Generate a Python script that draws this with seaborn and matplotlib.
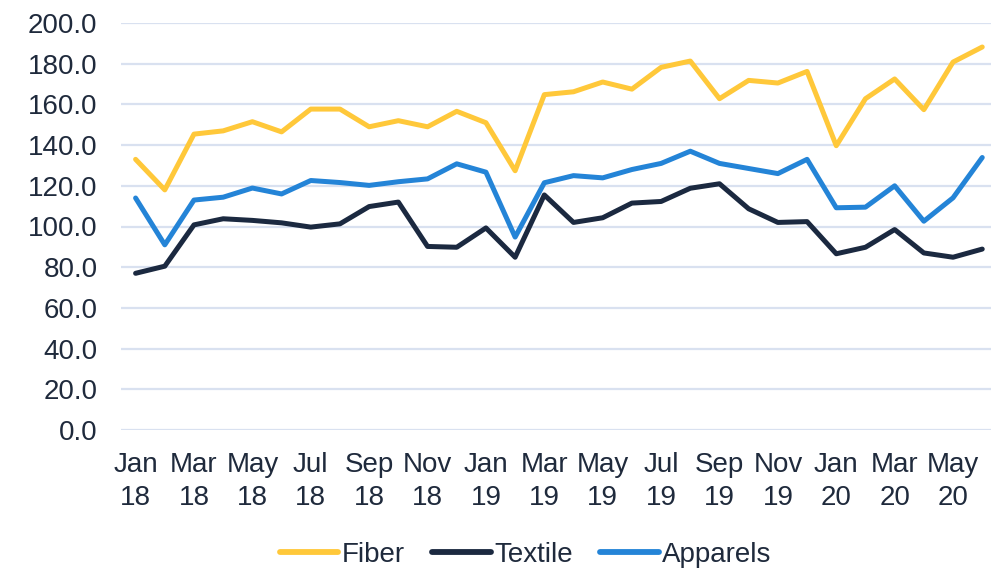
import pandas as pd
import numpy as np
import matplotlib
matplotlib.use("Agg")
import matplotlib.pyplot as plt
import seaborn as sns

# ── data ──────────────────────────────────────────────────────────────
months = ["Jan 18", "Feb 18", "Mar 18", "Apr 18", "May 18", "Jun 18",
          "Jul 18", "Aug 18", "Sep 18", "Oct 18", "Nov 18", "Dec 18",
          "Jan 19", "Feb 19", "Mar 19", "Apr 19", "May 19", "Jun 19",
          "Jul 19", "Aug 19", "Sep 19", "Oct 19", "Nov 19", "Dec 19",
          "Jan 20", "Feb 20", "Mar 20", "Apr 20", "May 20", "Jun 20"]

fiber = [133, 118, 145.4, 147, 151.5, 146.5, 157.7, 157.7, 149, 152,
         149, 156.6, 151, 127.4, 164.8, 166.2, 171, 167.5, 178.2, 181.3,
         162.8, 171.8, 170.5, 176.2, 139.7, 162.8, 172.5, 157.4, 180.8, 188.2]

textile = [77, 80.5, 100.8, 103.8, 103, 101.8, 99.7, 101.3, 109.8, 112,
           90.2, 89.8, 99.3, 84.9, 115.5, 102, 104.3, 111.5, 112.3, 118.8,
           121, 108.7, 102, 102.4, 86.6, 89.8, 98.5, 87, 84.9, 88.9]

apparels = [114, 91, 113, 114.4, 118.9, 116, 122.6, 121.6, 120.2, 122,
            123.4, 130.8, 126.7, 94.8, 121.5, 125, 123.9, 128, 131, 137,
            131, 128.5, 126, 133, 109.2, 109.5, 120, 102.6, 114.1, 133.9]

series = ["Fiber", "Textile", "Apparels"]
colors = {"Fiber": "#FFC83A", "Textile": "#1B2940", "Apparels": "#2484D7"}

df = pd.DataFrame({"idx": np.arange(len(months)), "Fiber": fiber,
                   "Textile": textile, "Apparels": apparels})
long = df.melt(id_vars="idx", value_vars=series, var_name="series", value_name="value")

# ── plot ──────────────────────────────────────────────────────────────
sns.set_theme(style="white")
plt.rcParams["font.family"] = ["Liberation Sans", "DejaVu Sans"]
text_col = "#1F2A3C"
fs = 20

fig = plt.figure(figsize=(9.91, 5.72), dpi=100)
ax = fig.add_axes([121 / 991, 1 - 430 / 572, (991 - 121) / 991, (430 - 23) / 572])

sns.lineplot(data=long, x="idx", y="value", hue="series", hue_order=series,
             palette=colors, linewidth=3.6, ax=ax, legend=True)

ax.set_xlim(-0.5, 29.3)
ax.set_ylim(0, 200)
ax.set_yticks(np.arange(0, 201, 20))
ax.set_yticklabels([f"{v:.1f}" for v in np.arange(0, 201, 20)], fontsize=fs, color=text_col)
ax.yaxis.grid(True, color="#D9E1F0", linewidth=1.6)
ax.xaxis.grid(False)
ax.set_axisbelow(True)

tick_idx = list(range(0, len(months), 2))
ax.set_xticks(tick_idx)
ax.set_xticklabels([months[i].replace(" ", "\n") for i in tick_idx],
                   fontsize=fs, color=text_col, linespacing=1.35)
ax.tick_params(axis="y", length=0, pad=17)
ax.tick_params(axis="x", length=0, pad=16)
ax.set_xlabel("")
ax.set_ylabel("")
for s in ax.spines.values():
    s.set_visible(False)

leg = ax.legend(loc="center", bbox_to_anchor=(0.465, -0.307), ncol=3, frameon=False,
                fontsize=fs, handlelength=2.1, columnspacing=1.0, handletextpad=0.12)
for t in leg.get_texts():
    t.set_color(text_col)
for h in leg.get_lines():
    h.set_linewidth(4.2)

fig.savefig("out.png", dpi=100)
